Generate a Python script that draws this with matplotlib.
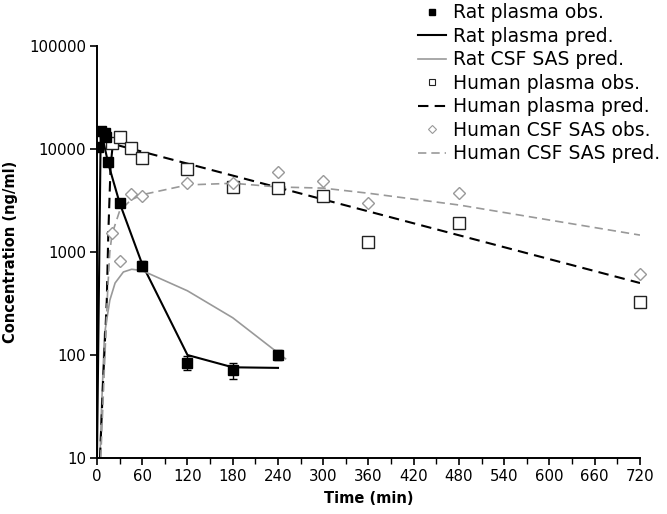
import matplotlib
matplotlib.use('Agg')
import matplotlib.pyplot as plt
from matplotlib.lines import Line2D
from matplotlib.ticker import MultipleLocator, NullLocator

plt.rcParams['font.family'] = ['DejaVu Sans']

# rat plasma, observed (mean +/- sd)
rat_obs_t = [2, 5, 10, 12, 15, 30, 60, 120, 180, 240]
rat_obs_c = [10500, 15100, 14300, 13200, 7400, 3000, 730, 84, 71, 100]
rat_obs_err = [0, 0, 0, 0, 0, 0, 80, 13, 12, 11]

# rat plasma, predicted
rat_pred_t = [0, 5, 15, 30, 60, 120, 180, 240]
rat_pred_c = [10, 15500, 7200, 3000, 760, 100, 76, 75]

# rat CSF SAS, predicted
rat_csf_t = [4, 6, 10, 17, 24, 35, 46, 60, 120, 180, 240, 250]
rat_csf_c = [10, 30, 160, 340, 500, 640, 680, 660, 420, 230, 105, 92]

# human plasma, observed
hum_obs_t = [20, 30, 45, 60, 120, 180, 240, 300, 360, 480, 720]
hum_obs_c = [11500, 13100, 10200, 8200, 6400, 4250, 4180, 3470, 1260, 1920, 330]

# human plasma, predicted
hum_pred_t = [4, 8, 13, 15, 18, 21, 720]
hum_pred_c = [10, 53, 340, 1500, 6700, 11200, 500]

# human CSF SAS, observed
hcsf_obs_t = [20, 30, 45, 60, 120, 180, 240, 300, 360, 480, 720]
hcsf_obs_c = [1520, 810, 3630, 3500, 4640, 4640, 5940, 4900, 3020, 3770, 605]

# human CSF SAS, predicted
hcsf_pred_t = [5, 10, 14, 17, 20, 30, 45, 60, 120, 180, 240, 300, 360, 480, 720]
hcsf_pred_c = [10, 80, 400, 1000, 1500, 2500, 3200, 3600, 4480, 4650, 4280, 4170, 3720, 2860, 1460]

labels = ['Rat plasma obs.', 'Rat plasma pred.', 'Rat CSF SAS pred.',
          'Human plasma obs.', 'Human plasma pred.', 'Human CSF SAS obs.',
          'Human CSF SAS pred.']

gray = '#999999'

fig = plt.figure(figsize=(6.67, 5.14), dpi=100)
ax = fig.add_axes([0.1454, 0.1089, 0.8141, 0.8016])

ax.errorbar(rat_obs_t, rat_obs_c, yerr=rat_obs_err, fmt='s', color='black',
            ms=7, capsize=3, elinewidth=1, zorder=5)
l_rp, = ax.plot(rat_pred_t, rat_pred_c, '-', color='black', lw=1.5)
l_rc, = ax.plot(rat_csf_t, rat_csf_c, '-', color=gray, lw=1.2)
ax.plot(hum_obs_t, hum_obs_c, 's', mfc='white', mec='#222222', mew=1.0, ms=8,
        ls='none', zorder=4, clip_on=False)
l_hp, = ax.plot(hum_pred_t, hum_pred_c, '--', color='black', lw=1.5, dashes=(5, 3))
ax.plot(hcsf_obs_t, hcsf_obs_c, 'D', mfc='white', mec=gray, mew=1.0, ms=6,
        ls='none', zorder=4, clip_on=False)
l_hc, = ax.plot(hcsf_pred_t, hcsf_pred_c, '--', color=gray, lw=1.2, dashes=(5, 3))

ax.set_yscale('log')
ax.set_ylim(10, 100000)
ax.set_xlim(0, 720)
ax.set_yticks([10, 100, 1000, 10000, 100000])
ax.set_yticklabels(['10', '100', '1000', '10000', '100000'])
ax.yaxis.set_minor_locator(NullLocator())
ax.xaxis.set_major_locator(MultipleLocator(60))
ax.xaxis.set_minor_locator(MultipleLocator(30))

for s in ['top', 'right']:
    ax.spines[s].set_visible(False)
for s in ['left', 'bottom']:
    ax.spines[s].set_linewidth(1.4)

ax.tick_params(axis='both', which='major', direction='out', length=5, width=1.2,
               labelsize=10.8, pad=3)
ax.tick_params(axis='x', which='minor', direction='out', length=4, width=1.0)

ax.set_xlabel('Time (min)', fontsize=10.5, fontweight='bold', labelpad=5)
ax.set_ylabel('Concentration (ng/ml)', fontsize=10.5, fontweight='bold', labelpad=8)

# legend handles drawn small, like the original key
handles = [
    Line2D([], [], marker='s', color='black', ls='none', ms=5),
    l_rp, l_rc,
    Line2D([], [], marker='s', mfc='white', mec='#222222', mew=0.8, ls='none', ms=5),
    l_hp,
    Line2D([], [], marker='D', mfc='white', mec=gray, mew=0.8, ls='none', ms=4.5),
    l_hc,
]
fig.legend(handles, labels, loc='upper left', bbox_to_anchor=(0.627, 0.994),
           frameon=False, fontsize=13.5, handlelength=1.5, handletextpad=0.35,
           labelspacing=0.24, borderpad=0, borderaxespad=0)

fig.savefig('out.png', dpi=100)
